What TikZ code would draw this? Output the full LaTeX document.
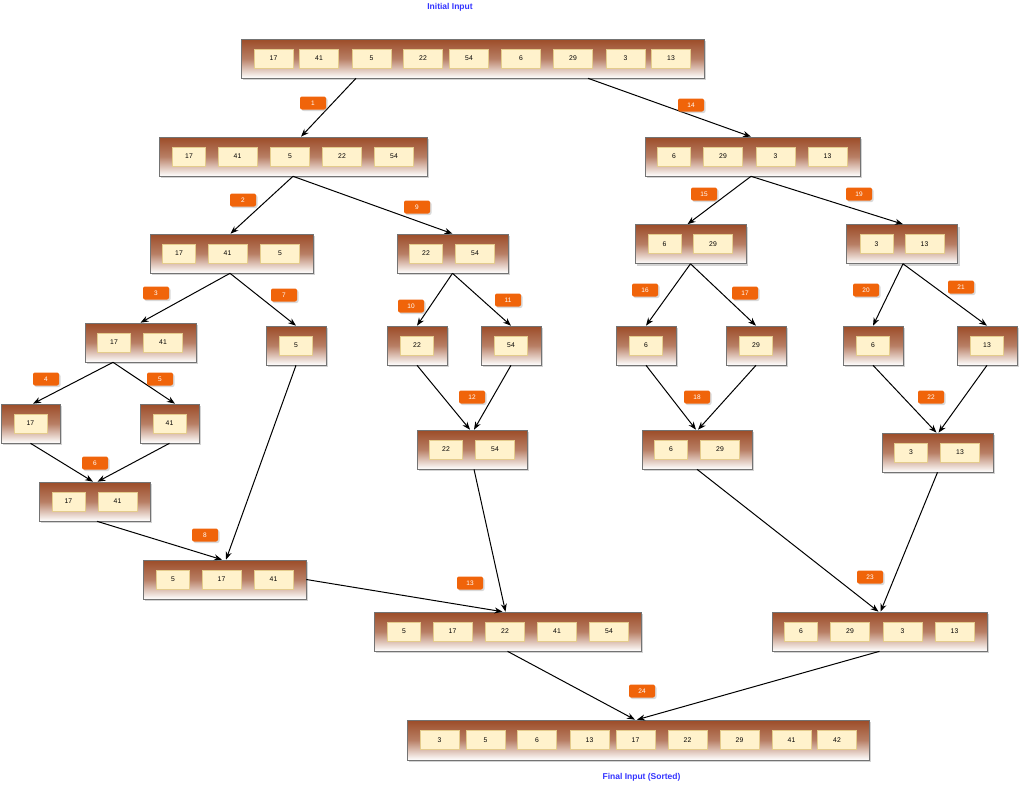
\documentclass[tikz,border=0pt]{standalone}
\usepackage{fontspec}
\setmainfont{Liberation Sans}
\usetikzlibrary{shadows,arrows.meta}
\definecolor{boxtop}{RGB}{156,76,40}
\definecolor{cellfill}{RGB}{255,242,204}
\definecolor{celldraw}{RGB}{228,204,140}
\definecolor{lblfill}{RGB}{240,100,10}
\definecolor{ttlblue}{RGB}{51,51,255}
\tikzset{
 sbox/.style={draw=black!55, line width=0.6pt, top color=boxtop, bottom color=white, middle color=boxtop!72!white, minimum height=39pt, inner sep=0pt, drop shadow={shadow xshift=2pt, shadow yshift=-2pt, opacity=0.35}},
 scell/.style={draw=celldraw, fill=cellfill, line width=0.6pt, minimum height=19pt, inner sep=0pt, font=\fontsize{6.8}{7}\selectfont},
 slabel/.style={fill=lblfill, text=white, rounded corners=2pt, minimum width=26pt, minimum height=13pt, inner sep=0pt, font=\fontsize{6.5}{7}\selectfont, drop shadow={shadow xshift=1.5pt, shadow yshift=-1.5pt, opacity=0.3}},
 conn/.style={-{Stealth[length=8pt,width=6pt]}, line width=1pt, black},
 ttl/.style={text=ttlblue, font=\bfseries\fontsize{8.5}{10}\selectfont}
}
\newcommand\cellrow[3]{\foreach \cx/\cw/\val [count=\ci] in {#3}{\node[scell,minimum width=\cw pt] (#1-\ci) at (\cx,#2) {\val};}}
\begin{document}
\begin{tikzpicture}[x=1pt,y=-1pt]
\useasboundingbox (0,0) rectangle (1024,795);
% titles
\node[ttl] (tin) at (450,7) {Initial Input};
\node[ttl] (tout) at (641.5,777.5) {Final Input (Sorted)};
% boxes
\node[sbox, minimum width=463pt] (A0) at (472.5,58.5) {};
\cellrow{A0}{58.5}{273.5/39/17, 319/39/41, 371.5/39/5, 423/39/22, 469/39/54, 521/39/6, 573/39/29, 625.5/39/3, 671/39/13}
\node[sbox, minimum width=268pt] (A1) at (293,156.5) {};
\cellrow{A1}{156.5}{189/33/17, 237.5/39/41, 290/39/5, 342/39/22, 394/39/54}
\node[sbox, minimum width=215pt] (B1) at (752.5,156.5) {};
\cellrow{B1}{156.5}{674/33/6, 723/39/29, 775.5/39/3, 827.5/39/13}
\node[sbox, minimum width=163pt] (A2) at (231.5,253.5) {};
\cellrow{A2}{253.5}{179/33/17, 227.5/39/41, 280/39/5}
\node[sbox, minimum width=111pt] (A3) at (452.5,253.5) {};
\cellrow{A3}{253.5}{426/33/22, 475/39/54}
\node[sbox, minimum width=111pt] (B2) at (690.5,244) {};
\cellrow{B2}{244}{664.5/33/6, 713/39/29}
\node[sbox, minimum width=111pt] (B3) at (902,244) {};
\cellrow{B3}{244}{876.5/33/3, 924.5/39/13}
\node[sbox, minimum width=111pt] (A4) at (140.5,342.5) {};
\cellrow{A4}{342.5}{114/33/17, 163/39/41}
\node[sbox, minimum width=60pt] (A5) at (296,345.5) {};
\cellrow{A5}{345.5}{296/33/5}
\node[sbox, minimum width=60pt] (A6) at (417,345.5) {};
\cellrow{A6}{345.5}{417/33/22}
\node[sbox, minimum width=60pt] (A7) at (511,345.5) {};
\cellrow{A7}{345.5}{511/33/54}
\node[sbox, minimum width=60pt] (B4) at (646,345.5) {};
\cellrow{B4}{345.5}{646/33/6}
\node[sbox, minimum width=60pt] (B5) at (756,345.5) {};
\cellrow{B5}{345.5}{756/33/29}
\node[sbox, minimum width=60pt] (B6) at (873,345.5) {};
\cellrow{B6}{345.5}{873/33/6}
\node[sbox, minimum width=60pt] (B7) at (987,345.5) {};
\cellrow{B7}{345.5}{987/33/13}
\node[sbox, minimum width=59pt] (A8) at (30.5,423.5) {};
\cellrow{A8}{423.5}{30.5/33/17}
\node[sbox, minimum width=59pt] (A9) at (169.5,423.5) {};
\cellrow{A9}{423.5}{169.5/33/41}
\node[sbox, minimum width=110pt] (A10) at (472,449.5) {};
\cellrow{A10}{449.5}{446/33/22, 495/39/54}
\node[sbox, minimum width=110pt] (B8) at (697,449.5) {};
\cellrow{B8}{449.5}{671/33/6, 720/39/29}
\node[sbox, minimum width=111pt] (B9) at (937.5,452.5) {};
\cellrow{B9}{452.5}{911/33/3, 960/39/13}
\node[sbox, minimum width=111pt] (A11) at (94.5,501.5) {};
\cellrow{A11}{501.5}{68.5/33/17, 117.5/39/41}
\node[sbox, minimum width=163pt] (A12) at (224.5,579.5) {};
\cellrow{A12}{579.5}{173/33/5, 221.5/39/17, 273.5/39/41}
\node[sbox, minimum width=267pt] (A13) at (507.5,631.5) {};
\cellrow{A13}{631.5}{404/33/5, 452.5/39/17, 505/39/22, 557/39/41, 609/39/54}
\node[sbox, minimum width=215pt] (B10) at (879.5,631.5) {};
\cellrow{B10}{631.5}{801/33/6, 850/39/29, 902.5/39/3, 954.5/39/13}
\node[sbox, minimum width=462pt, minimum height=40pt] (F) at (638,740) {};
\cellrow{F}{740}{439.5/39/3, 485.5/39/5, 537/39/6, 589.5/39/13, 635.5/39/17, 687.5/39/22, 739.5/39/29, 791.5/39/41, 837/39/42}
% connectors
\draw[conn] ([xshift=-116.5pt]A0.south) -- ([xshift=8pt]A1.north);
\draw[conn] ([xshift=115.5pt]A0.south) -- ([xshift=-1.5pt]B1.north);
\draw[conn] (A1.south) -- ([xshift=-1pt]A2.north);
\draw[conn] (A1.south) -- (A3.north);
\draw[conn] ([xshift=-1.5pt]A2.south) -- (A4.north);
\draw[conn] ([xshift=-1.5pt]A2.south) -- (A5.north);
\draw[conn] (A3.south) -- (A6.north);
\draw[conn] (A3.south) -- (A7.north);
\draw[conn] ([xshift=-1.5pt]B1.south) -- ([xshift=-3pt]B2.north);
\draw[conn] ([xshift=-1.5pt]B1.south) -- ([xshift=1pt]B3.north);
\draw[conn] (B2.south) -- (B4.north);
\draw[conn] (B2.south) -- (B5.north);
\draw[conn] ([xshift=1pt]B3.south) -- (B6.north);
\draw[conn] ([xshift=1pt]B3.south) -- (B7.north);
\draw[conn] ([xshift=-27.5pt]A4.south) -- ([xshift=2.5pt]A8.north);
\draw[conn] ([xshift=-27.5pt]A4.south) -- ([xshift=5.5pt]A9.north);
\draw[conn] (A8.south) -- ([xshift=-1.5pt]A11.north);
\draw[conn] (A9.south) -- ([xshift=3pt]A11.north);
\draw[conn] ([xshift=2.5pt]A11.south) -- ([xshift=-2.5pt]A12.north);
\draw[conn] (A5.south) -- ([xshift=1.5pt]A12.north);
\draw[conn] (A6.south) -- ([xshift=-2pt]A10.north);
\draw[conn] (A7.south) -- ([xshift=2pt]A10.north);
\draw[conn] (B4.south) -- ([xshift=-1pt]B8.north);
\draw[conn] (B5.south) -- ([xshift=1pt]B8.north);
\draw[conn] (B6.south) -- ([xshift=-1pt]B9.north);
\draw[conn] (B7.south) -- ([xshift=1pt]B9.north);
\draw[conn] (A12.east) -- ([xshift=-5pt]A13.north);
\draw[conn] ([xshift=2pt]A10.south) -- ([xshift=-2pt]A13.north);
\draw[conn] (B8.south) -- ([xshift=-1pt]B10.north);
\draw[conn] (B9.south) -- ([xshift=1pt]B10.north);
\draw[conn] (A13.south) -- ([xshift=-3pt]F.north);
\draw[conn] (B10.south) -- ([xshift=-1pt]F.north);
% step labels
\node[slabel] (l1) at (313,103) {1};
\node[slabel] (l14) at (691,105) {14};
\node[slabel] (l2) at (243,200) {2};
\node[slabel] (l9) at (417,207) {9};
\node[slabel] (l3) at (156,293) {3};
\node[slabel] (l7) at (284,295) {7};
\node[slabel] (l15) at (704,194) {15};
\node[slabel] (l19) at (859,194) {19};
\node[slabel] (l10) at (411,306) {10};
\node[slabel] (l11) at (508,300) {11};
\node[slabel] (l16) at (645,290) {16};
\node[slabel] (l17) at (745,293) {17};
\node[slabel] (l20) at (866,290) {20};
\node[slabel] (l21) at (961,287) {21};
\node[slabel] (l4) at (46,379) {4};
\node[slabel] (l5) at (160,379) {5};
\node[slabel] (l12) at (472,397) {12};
\node[slabel] (l18) at (697,397) {18};
\node[slabel] (l22) at (931,397) {22};
\node[slabel] (l6) at (95,463) {6};
\node[slabel] (l8) at (205,535) {8};
\node[slabel] (l13) at (470,583) {13};
\node[slabel] (l23) at (870,577) {23};
\node[slabel] (l24) at (642,691) {24};
\end{tikzpicture}
\end{document}
